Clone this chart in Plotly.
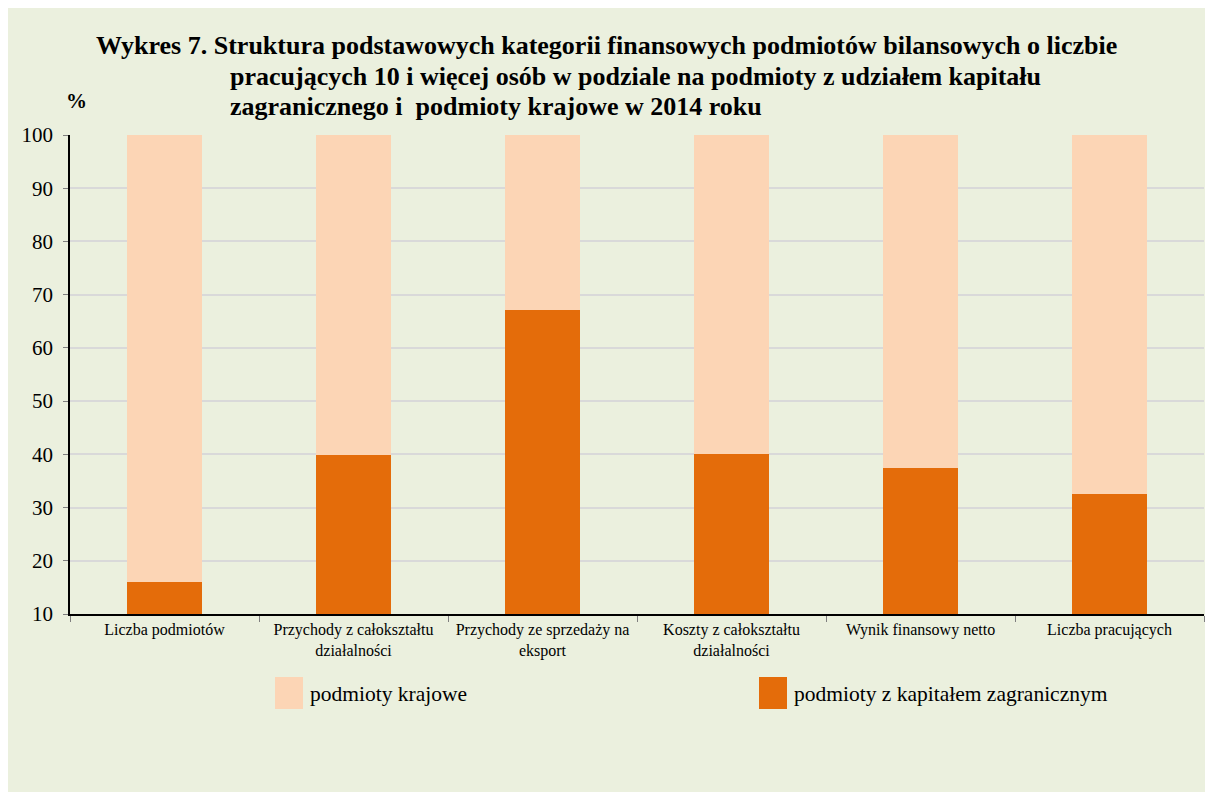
import plotly.graph_objects as go

categories = [
    "Liczba podmiotów",
    "Przychody z całokształtu<br>działalności",
    "Przychody ze sprzedaży na<br>eksport",
    "Koszty z całokształtu<br>działalności",
    "Wynik finansowy netto",
    "Liczba pracujących",
]
foreign = [16.0, 39.9, 67.1, 40.1, 37.5, 32.5]
domestic = [84.0, 60.1, 32.9, 59.9, 62.5, 67.5]
y_ticks = [10, 20, 30, 40, 50, 60, 70, 80, 90, 100]

title_lines = [
    "Wykres 7. Struktura podstawowych kategorii finansowych podmiotów bilansowych o liczbie",
    "pracujących 10 i więcej osób w podziale na podmioty z udziałem kapitału",
    "zagranicznego i  podmioty krajowe w 2014 roku",
]
legend_names = ["podmioty krajowe", "podmioty z kapitałem zagranicznym"]

C_FOREIGN = "#E46C0A"
C_DOMESTIC = "#FCD5B5"
BG = "#EBF0DE"
FONT = "Liberation Serif"

W, H = 1213, 792
OFF = 8  # page offset of the figure on screen
L, R, T, B = 62, 17, 127, 186
PW, PH = W - L - R, H - T - B


def px(x):
    return (x - OFF - L) / PW


def py(y):
    return (H - B - (y - OFF)) / PH


fig = go.Figure()
fig.add_trace(go.Bar(x=categories, y=foreign, name=legend_names[1],
                     marker=dict(color=C_FOREIGN, line=dict(width=0)), showlegend=False))
fig.add_trace(go.Bar(x=categories, y=domestic, name=legend_names[0],
                     marker=dict(color=C_DOMESTIC, line=dict(width=0)), showlegend=False))

fig.update_layout(
    width=W, height=H,
    margin=dict(l=L, r=R, t=T, b=B, pad=0),
    paper_bgcolor=BG, plot_bgcolor=BG,
    barmode="stack", bargap=0.6,
    font=dict(family=FONT, color="#000000"),
    xaxis=dict(
        showline=True, linecolor="#000000", linewidth=1.5,
        ticks="outside", tickson="boundaries", ticklen=6, tickcolor="#7F7F7F",
        tickfont=dict(size=16, family=FONT), showgrid=False,
    ),
    yaxis=dict(
        range=[10, 100], tickvals=y_ticks,
        showline=True, linecolor="#000000", linewidth=1.5,
        ticks="outside", ticklen=5, tickcolor="#7F7F7F",
        tickfont=dict(size=21, family=FONT),
        showgrid=True, gridcolor="#D9D9D9", gridwidth=2,
        zeroline=False, ticklabelstandoff=6,
    ),
)

# Title
fig.add_annotation(text="<b>" + title_lines[0] + "</b>", xref="paper", yref="paper",
                   x=px(606.5), y=py(46), xanchor="center", yanchor="middle",
                   showarrow=False, font=dict(size=26, family=FONT))
for i, line in enumerate(title_lines[1:]):
    fig.add_annotation(text="<b>" + line + "</b>", xref="paper", yref="paper",
                       x=px(228), y=py(76 + 30 * i), xanchor="left", yanchor="middle",
                       showarrow=False, font=dict(size=26, family=FONT))
fig.add_annotation(text="<b>%</b>", xref="paper", yref="paper",
                   x=px(76), y=py(101), xanchor="center", yanchor="middle",
                   showarrow=False, font=dict(size=21, family=FONT))

# Legend
legend_items = [(legend_names[0], C_DOMESTIC, 275), (legend_names[1], C_FOREIGN, 759)]
for name, color, x0 in legend_items:
    fig.add_shape(type="rect", xref="paper", yref="paper",
                  x0=px(x0), x1=px(x0 + 28), y0=py(709), y1=py(677),
                  fillcolor=color, line=dict(width=0))
    fig.add_annotation(text=name, xref="paper", yref="paper",
                       x=px(x0 + 33), y=py(694), xanchor="left", yanchor="middle",
                       showarrow=False, font=dict(size=21.5, family=FONT))

fig.write_html("out.html")
